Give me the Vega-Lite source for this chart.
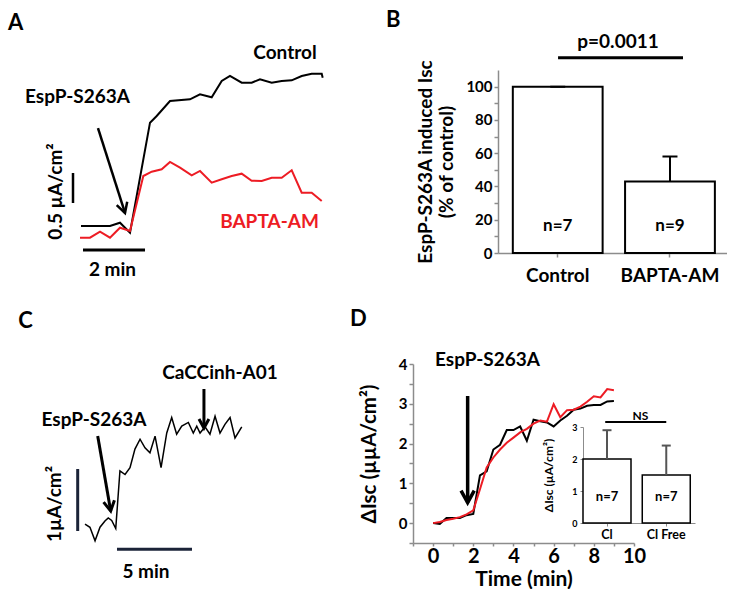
{
  "$schema": "https://vega.github.io/schema/vega-lite/v6.json",
  "background": "white",
  "padding": {"left": 0, "top": 8, "right": 0, "bottom": 0},
  "config": {
    "view": {"stroke": null},
    "font": "Lato",
    "text": {"font": "Lato", "fontWeight": "bold", "fontSize": 19, "color": "black"},
    "axis": {"labelFont": "Lato", "titleFont": "Lato", "labelFontWeight": "bold", "titleFontWeight": "bold", "labelColor": "black", "titleColor": "black", "domainColor": "#8c8c8c", "tickColor": "#8c8c8c", "domainWidth": 1.5, "tickWidth": 1.5, "grid": false, "labelFlush": false, "labelOverlap": false}
  },
  "datasets": {
    "aTraces": [
      {"condition": "Control", "time": 0, "isc": 0},
      {"condition": "Control", "time": 0.935, "isc": 0},
      {"condition": "Control", "time": 1.258, "isc": 0.055},
      {"condition": "Control", "time": 1.581, "isc": -0.112},
      {"condition": "Control", "time": 2.226, "isc": 1.722},
      {"condition": "Control", "time": 2.442, "isc": 1.833},
      {"condition": "Control", "time": 2.871, "isc": 2.083},
      {"condition": "Control", "time": 3.516, "isc": 2.112},
      {"condition": "Control", "time": 3.839, "isc": 2.195},
      {"condition": "Control", "time": 4.216, "isc": 2.145},
      {"condition": "Control", "time": 4.539, "isc": 2.417},
      {"condition": "Control", "time": 4.806, "isc": 2.5},
      {"condition": "Control", "time": 5.184, "isc": 2.388},
      {"condition": "Control", "time": 5.506, "isc": 2.388},
      {"condition": "Control", "time": 5.774, "isc": 2.445},
      {"condition": "Control", "time": 6.152, "isc": 2.388},
      {"condition": "Control", "time": 6.474, "isc": 2.417},
      {"condition": "Control", "time": 6.797, "isc": 2.428},
      {"condition": "Control", "time": 7.119, "isc": 2.5},
      {"condition": "Control", "time": 7.442, "isc": 2.538},
      {"condition": "Control", "time": 7.765, "isc": 2.538},
      {"condition": "Control", "time": 7.797, "isc": 2.472},
      {"condition": "BAPTA-AM", "time": -0.032, "isc": -0.195},
      {"condition": "BAPTA-AM", "time": 0.29, "isc": -0.195},
      {"condition": "BAPTA-AM", "time": 0.613, "isc": -0.095},
      {"condition": "BAPTA-AM", "time": 0.935, "isc": -0.195},
      {"condition": "BAPTA-AM", "time": 1.258, "isc": -0.028},
      {"condition": "BAPTA-AM", "time": 1.581, "isc": -0.083},
      {"condition": "BAPTA-AM", "time": 2.01, "isc": 0.833},
      {"condition": "BAPTA-AM", "time": 2.281, "isc": 0.905},
      {"condition": "BAPTA-AM", "time": 2.603, "isc": 0.945},
      {"condition": "BAPTA-AM", "time": 2.871, "isc": 1.067},
      {"condition": "BAPTA-AM", "time": 3.194, "isc": 0.972},
      {"condition": "BAPTA-AM", "time": 3.571, "isc": 0.845},
      {"condition": "BAPTA-AM", "time": 3.839, "isc": 0.917},
      {"condition": "BAPTA-AM", "time": 4.216, "isc": 0.722},
      {"condition": "BAPTA-AM", "time": 4.539, "isc": 0.778},
      {"condition": "BAPTA-AM", "time": 4.861, "isc": 0.833},
      {"condition": "BAPTA-AM", "time": 5.184, "isc": 0.872},
      {"condition": "BAPTA-AM", "time": 5.506, "isc": 0.755},
      {"condition": "BAPTA-AM", "time": 5.829, "isc": 0.75},
      {"condition": "BAPTA-AM", "time": 6.152, "isc": 0.805},
      {"condition": "BAPTA-AM", "time": 6.474, "isc": 0.805},
      {"condition": "BAPTA-AM", "time": 6.797, "isc": 0.928},
      {"condition": "BAPTA-AM", "time": 7.119, "isc": 0.555},
      {"condition": "BAPTA-AM", "time": 7.442, "isc": 0.555},
      {"condition": "BAPTA-AM", "time": 7.765, "isc": 0.417}
    ],
    "bBars": [
      {"group": "Control", "pct": 100, "upper": 100, "n": "n=7"},
      {"group": "BAPTA-AM", "pct": 43, "upper": 58, "n": "n=9"}
    ],
    "cTrace": [
      {"time": 0, "isc": 0.03}, {"time": 0.33, "isc": -0.02}, {"time": 0.67, "isc": -0.24},
      {"time": 1.0, "isc": -0.02}, {"time": 1.33, "isc": 0.08}, {"time": 1.55, "isc": 0.13},
      {"time": 1.78, "isc": 0.09}, {"time": 2.05, "isc": -0.04}, {"time": 2.33, "isc": 0.89},
      {"time": 2.67, "isc": 0.83}, {"time": 3.0, "isc": 0.94}, {"time": 3.33, "isc": 1.24},
      {"time": 3.67, "isc": 1.4}, {"time": 4.0, "isc": 1.26}, {"time": 4.33, "isc": 1.18},
      {"time": 4.67, "isc": 1.45}, {"time": 5.07, "isc": 0.94}, {"time": 5.45, "isc": 1.5},
      {"time": 5.78, "isc": 1.75}, {"time": 6.11, "isc": 1.48}, {"time": 6.45, "isc": 1.61},
      {"time": 6.89, "isc": 1.67}, {"time": 7.22, "isc": 1.5}, {"time": 7.45, "isc": 1.61},
      {"time": 7.67, "isc": 1.5}, {"time": 8.0, "isc": 1.6}, {"time": 8.33, "isc": 1.48},
      {"time": 8.67, "isc": 1.77}, {"time": 9.0, "isc": 1.5}, {"time": 9.33, "isc": 1.64},
      {"time": 9.67, "isc": 1.75}, {"time": 10.0, "isc": 1.42}, {"time": 10.45, "isc": 1.6}
    ],
    "dTraces": [
      {"condition": "Cl", "time": 0, "disc": 0},
      {"condition": "Cl", "time": 0.333, "disc": -0.02},
      {"condition": "Cl", "time": 0.667, "disc": 0.13},
      {"condition": "Cl", "time": 1.0, "disc": 0.13},
      {"condition": "Cl", "time": 1.333, "disc": 0.13},
      {"condition": "Cl", "time": 1.667, "disc": 0.2},
      {"condition": "Cl", "time": 2.0, "disc": 0.23},
      {"condition": "Cl", "time": 2.333, "disc": 1.2},
      {"condition": "Cl", "time": 2.667, "disc": 1.3},
      {"condition": "Cl", "time": 3.0, "disc": 1.85},
      {"condition": "Cl", "time": 3.333, "disc": 1.97},
      {"condition": "Cl", "time": 3.667, "disc": 2.34},
      {"condition": "Cl", "time": 4.0, "disc": 2.34},
      {"condition": "Cl", "time": 4.333, "disc": 2.43},
      {"condition": "Cl", "time": 4.667, "disc": 2.07},
      {"condition": "Cl", "time": 5.0, "disc": 2.6},
      {"condition": "Cl", "time": 5.333, "disc": 2.56},
      {"condition": "Cl", "time": 5.667, "disc": 2.53},
      {"condition": "Cl", "time": 6.0, "disc": 2.43},
      {"condition": "Cl", "time": 6.333, "disc": 2.58},
      {"condition": "Cl", "time": 6.667, "disc": 2.7},
      {"condition": "Cl", "time": 7.0, "disc": 2.85},
      {"condition": "Cl", "time": 7.333, "disc": 2.88},
      {"condition": "Cl", "time": 7.667, "disc": 2.95},
      {"condition": "Cl", "time": 8.0, "disc": 2.97},
      {"condition": "Cl", "time": 8.333, "disc": 2.97},
      {"condition": "Cl", "time": 8.667, "disc": 3.06},
      {"condition": "Cl", "time": 9.0, "disc": 3.07},
      {"condition": "Cl Free", "time": 0, "disc": 0},
      {"condition": "Cl Free", "time": 0.333, "disc": 0.03},
      {"condition": "Cl Free", "time": 0.667, "disc": 0.08},
      {"condition": "Cl Free", "time": 1.0, "disc": 0.11},
      {"condition": "Cl Free", "time": 1.333, "disc": 0.15},
      {"condition": "Cl Free", "time": 1.667, "disc": 0.22},
      {"condition": "Cl Free", "time": 2.0, "disc": 0.32},
      {"condition": "Cl Free", "time": 2.333, "disc": 0.85},
      {"condition": "Cl Free", "time": 2.667, "disc": 1.4},
      {"condition": "Cl Free", "time": 3.0, "disc": 1.65},
      {"condition": "Cl Free", "time": 3.333, "disc": 1.85},
      {"condition": "Cl Free", "time": 3.667, "disc": 2.02},
      {"condition": "Cl Free", "time": 4.0, "disc": 2.15},
      {"condition": "Cl Free", "time": 4.333, "disc": 2.28},
      {"condition": "Cl Free", "time": 4.667, "disc": 2.37},
      {"condition": "Cl Free", "time": 5.0, "disc": 2.5},
      {"condition": "Cl Free", "time": 5.333, "disc": 2.58},
      {"condition": "Cl Free", "time": 5.667, "disc": 2.55},
      {"condition": "Cl Free", "time": 6.0, "disc": 2.99},
      {"condition": "Cl Free", "time": 6.333, "disc": 2.66},
      {"condition": "Cl Free", "time": 6.667, "disc": 2.84},
      {"condition": "Cl Free", "time": 7.0, "disc": 2.85},
      {"condition": "Cl Free", "time": 7.333, "disc": 2.93},
      {"condition": "Cl Free", "time": 7.667, "disc": 3.05},
      {"condition": "Cl Free", "time": 8.0, "disc": 3.19},
      {"condition": "Cl Free", "time": 8.333, "disc": 3.16},
      {"condition": "Cl Free", "time": 8.667, "disc": 3.37},
      {"condition": "Cl Free", "time": 9.0, "disc": 3.34}
    ],
    "insetBars": [
      {"group": "Cl", "mean": 2.0, "upper": 2.9, "n": "n=7"},
      {"group": "Cl Free", "mean": 1.5, "upper": 2.42, "n": "n=7"}
    ]
  },
  "spacing": 294,
  "bounds": "flush",
  "vconcat": [
    {
      "spacing": 158,
      "bounds": "flush",
      "hconcat": [
        {
          "width": 340,
          "height": 183,
          "layer": [
            {
              "data": {"name": "aTraces"},
              "mark": {"type": "line", "strokeWidth": 2},
              "encoding": {
                "x": {"field": "time", "type": "quantitative", "scale": {"domain": [-2.613, 8.355], "nice": false, "zero": false}, "axis": null},
                "y": {"field": "isc", "type": "quantitative", "scale": {"domain": [-0.45, 2.6], "nice": false, "zero": false}, "axis": null},
                "color": {"field": "condition", "type": "nominal", "scale": {"domain": ["Control", "BAPTA-AM", "Cl", "Cl Free"], "range": ["#000000", "#ed1c24", "#000000", "#ed1c24"]}, "legend": null}
              }
            },
            {
              "data": {"values": [{"label": "A"}]},
              "mark": {"type": "text", "align": "left", "baseline": "alphabetic", "fontSize": 22},
              "encoding": {"x": {"datum": -2.355, "type": "quantitative", "axis": null}, "y": {"datum": 3.262, "type": "quantitative", "axis": null}, "text": {"field": "label"}}
            },
            {
              "data": {"values": [{"label": "Control"}]},
              "mark": {"type": "text", "align": "center", "baseline": "alphabetic", "fontSize": 19},
              "encoding": {"x": {"datum": 6.581, "type": "quantitative", "axis": null}, "y": {"datum": 2.783, "type": "quantitative", "axis": null}, "text": {"field": "label"}}
            },
            {
              "data": {"values": [{"label": "BAPTA-AM"}]},
              "mark": {"type": "text", "align": "center", "baseline": "alphabetic", "fontSize": 19, "color": "#ed1c24"},
              "encoding": {"x": {"datum": 6.081, "type": "quantitative", "axis": null}, "y": {"datum": -0.028, "type": "quantitative", "axis": null}, "text": {"field": "label"}}
            },
            {
              "data": {"values": [{"label": "EspP-S263A"}]},
              "mark": {"type": "text", "align": "center", "baseline": "alphabetic", "fontSize": 19},
              "encoding": {"x": {"datum": -0.113, "type": "quantitative", "axis": null}, "y": {"datum": 2.058, "type": "quantitative", "axis": null}, "text": {"field": "label"}}
            },
            {
              "data": {"values": [{"label": "2 min"}]},
              "mark": {"type": "text", "align": "center", "baseline": "alphabetic", "fontSize": 19},
              "encoding": {"x": {"datum": 1.016, "type": "quantitative", "axis": null}, "y": {"datum": -0.833, "type": "quantitative", "axis": null}, "text": {"field": "label"}}
            },
            {
              "data": {"values": [{"label": "0.5 µA/cm²"}]},
              "mark": {"type": "text", "align": "center", "baseline": "alphabetic", "fontSize": 19, "angle": 270},
              "encoding": {"x": {"datum": -0.629, "type": "quantitative", "axis": null}, "y": {"datum": 0.575, "type": "quantitative", "axis": null}, "text": {"field": "label"}}
            },
            {
              "data": {"values": [{"event": "EspP-S263A addition"}]},
              "mark": {"type": "rule", "color": "black", "strokeWidth": 2.5},
              "encoding": {"x": {"datum": 0.548, "type": "quantitative", "axis": null}, "y": {"datum": 1.633, "type": "quantitative", "axis": null}, "x2": {"datum": 1.419}, "y2": {"datum": 0.217}}
            },
            {
              "data": {"values": [{"event": "EspP-S263A addition"}]},
              "mark": {"type": "point", "shape": "M-0.55,-1L0,0L0.55,-1", "size": 400, "filled": false, "stroke": "black", "strokeWidth": 2.5, "opacity": 1, "angle": 342.4},
              "encoding": {"x": {"datum": 1.419, "type": "quantitative", "axis": null}, "y": {"datum": 0.217, "type": "quantitative", "axis": null}}
            },
            {
              "data": {"values": [{"scalebar": "0.5 µA/cm²"}]},
              "mark": {"type": "rule", "color": "black", "strokeWidth": 2.5},
              "encoding": {"x": {"datum": -0.258, "type": "quantitative", "axis": null}, "y": {"datum": 0.383, "type": "quantitative", "axis": null}, "y2": {"datum": 0.883}}
            },
            {
              "data": {"values": [{"scalebar": "2 min"}]},
              "mark": {"type": "rule", "color": "black", "strokeWidth": 3},
              "encoding": {"x": {"datum": 0.0645, "type": "quantitative", "axis": null}, "x2": {"datum": 2.065}, "y": {"datum": -0.4, "type": "quantitative", "axis": null}}
            }
          ]
        },
        {
          "width": 229,
          "height": 183,
          "resolve": {"scale": {"x": "independent"}},
          "layer": [
            {
              "data": {"name": "bBars"},
              "encoding": {
                "x": {"field": "group", "type": "nominal", "sort": null, "title": null,
                  "scale": {"domain": ["Control", "BAPTA-AM"], "paddingInner": 0.2, "paddingOuter": 0.12, "align": 0.55},
                  "axis": {"labelAngle": 0, "labelFontSize": 19, "labelPadding": 9, "tickSize": 4, "title": null, "labelOverlap": false}}
              },
              "layer": [
                {
                  "mark": {"type": "bar", "fill": "white", "stroke": "black", "strokeWidth": 2},
                  "encoding": {
                    "y": {"field": "pct", "type": "quantitative", "title": ["EspP-S263A induced Isc", "(% of control)"],
                      "scale": {"domain": [0, 110], "nice": false, "zero": false},
                      "axis": {"title": ["EspP-S263A induced Isc", "(% of control)"], "values": [0, 10, 20, 30, 40, 50, 60, 70, 80, 90, 100], "labelExpr": "datum.value % 20 === 0 ? format(datum.value, 'd') : ''", "labelOverlap": false, "labelSeparation": 0, "labelFontSize": 15, "labelPadding": 2, "tickSize": 4, "titleFontSize": 19, "titlePadding": 9, "titleLineHeight": 21}}
                  }
                },
                {
                  "mark": {"type": "rule", "color": "black", "strokeWidth": 2},
                  "encoding": {"y": {"field": "pct", "type": "quantitative", "title": ["EspP-S263A induced Isc", "(% of control)"],
                      "axis": {"title": ["EspP-S263A induced Isc", "(% of control)"], "values": [0, 10, 20, 30, 40, 50, 60, 70, 80, 90, 100], "labelExpr": "datum.value % 20 === 0 ? format(datum.value, 'd') : ''", "labelOverlap": false, "labelSeparation": 0, "labelFontSize": 15, "labelPadding": 2, "tickSize": 4, "titleFontSize": 19, "titlePadding": 9, "titleLineHeight": 21}},
                    "y2": {"field": "upper"}}
                },
                {
                  "mark": {"type": "tick", "color": "black", "size": 15, "thickness": 2, "opacity": 1},
                  "encoding": {"y": {"field": "upper", "type": "quantitative", "title": ["EspP-S263A induced Isc", "(% of control)"],
                      "axis": {"title": ["EspP-S263A induced Isc", "(% of control)"], "values": [0, 10, 20, 30, 40, 50, 60, 70, 80, 90, 100], "labelExpr": "datum.value % 20 === 0 ? format(datum.value, 'd') : ''", "labelOverlap": false, "labelSeparation": 0, "labelFontSize": 15, "labelPadding": 2, "tickSize": 4, "titleFontSize": 19, "titlePadding": 9, "titleLineHeight": 21}}}
                },
                {
                  "mark": {"type": "text", "fontSize": 17, "baseline": "middle", "align": "center"},
                  "encoding": {"y": {"datum": 16, "type": "quantitative",
                      "axis": {"title": ["EspP-S263A induced Isc", "(% of control)"], "values": [0, 10, 20, 30, 40, 50, 60, 70, 80, 90, 100], "labelExpr": "datum.value % 20 === 0 ? format(datum.value, 'd') : ''", "labelOverlap": false, "labelSeparation": 0, "labelFontSize": 15, "labelPadding": 2, "tickSize": 4, "titleFontSize": 19, "titlePadding": 9, "titleLineHeight": 21}},
                    "text": {"field": "n"}}
                }
              ]
            },
            {
              "data": {"values": [{"label": "B"}]},
              "mark": {"type": "text", "align": "left", "baseline": "alphabetic", "fontSize": 22},
              "encoding": {"x": {"datum": -1.53, "type": "quantitative", "scale": {"domain": [-0.532, 1.508], "nice": false, "zero": false}, "axis": null},
                "y": {"datum": 135.85, "type": "quantitative",
                  "axis": {"title": ["EspP-S263A induced Isc", "(% of control)"], "values": [0, 10, 20, 30, 40, 50, 60, 70, 80, 90, 100], "labelExpr": "datum.value % 20 === 0 ? format(datum.value, 'd') : ''", "labelOverlap": false, "labelSeparation": 0, "labelFontSize": 15, "labelPadding": 2, "tickSize": 4, "titleFontSize": 19, "titlePadding": 9, "titleLineHeight": 21}},
                "text": {"field": "label"}}
            },
            {
              "data": {"values": [{"comparison": "Control vs BAPTA-AM"}]},
              "mark": {"type": "rule", "color": "black", "strokeWidth": 3},
              "encoding": {"x": {"datum": 0.003, "type": "quantitative", "scale": {"domain": [-0.532, 1.508], "nice": false, "zero": false}, "axis": null}, "x2": {"datum": 1.116},
                "y": {"datum": 117.4, "type": "quantitative",
                  "axis": {"title": ["EspP-S263A induced Isc", "(% of control)"], "values": [0, 10, 20, 30, 40, 50, 60, 70, 80, 90, 100], "labelExpr": "datum.value % 20 === 0 ? format(datum.value, 'd') : ''", "labelOverlap": false, "labelSeparation": 0, "labelFontSize": 15, "labelPadding": 2, "tickSize": 4, "titleFontSize": 19, "titlePadding": 9, "titleLineHeight": 21}}}
            },
            {
              "data": {"values": [{"label": "p=0.0011"}]},
              "mark": {"type": "text", "align": "center", "baseline": "alphabetic", "fontSize": 19},
              "encoding": {"x": {"datum": 0.537, "type": "quantitative", "scale": {"domain": [-0.532, 1.508], "nice": false, "zero": false}, "axis": null},
                "y": {"datum": 123.4, "type": "quantitative",
                  "axis": {"title": ["EspP-S263A induced Isc", "(% of control)"], "values": [0, 10, 20, 30, 40, 50, 60, 70, 80, 90, 100], "labelExpr": "datum.value % 20 === 0 ? format(datum.value, 'd') : ''", "labelOverlap": false, "labelSeparation": 0, "labelFontSize": 15, "labelPadding": 2, "tickSize": 4, "titleFontSize": 19, "titlePadding": 9, "titleLineHeight": 21}},
                "text": {"field": "label"}}
            }
          ]
        }
      ]
    },
    {
      "spacing": 0,
      "bounds": "flush",
      "hconcat": [
        {
          "width": 413,
          "height": 179,
          "layer": [
            {
              "data": {"name": "cTrace"},
              "mark": {"type": "line", "color": "black", "strokeWidth": 1.5},
              "encoding": {
                "x": {"field": "time", "type": "quantitative", "scale": {"domain": [-5.6667, 21.8667], "nice": false, "zero": false}, "axis": null},
                "y": {"field": "isc", "type": "quantitative", "scale": {"domain": [-0.2742, 2.6129], "nice": false, "zero": false}, "axis": null}
              }
            },
            {
              "data": {"values": [{"label": "C"}]},
              "mark": {"type": "text", "align": "left", "baseline": "alphabetic", "fontSize": 22},
              "encoding": {"x": {"datum": -4.447, "type": "quantitative", "axis": null}, "y": {"datum": 3.198, "type": "quantitative", "axis": null}, "text": {"field": "label"}}
            },
            {
              "data": {"values": [{"label": "EspP-S263A"}]},
              "mark": {"type": "text", "align": "center", "baseline": "alphabetic", "fontSize": 19},
              "encoding": {"x": {"datum": 0.6, "type": "quantitative", "axis": null}, "y": {"datum": 1.613, "type": "quantitative", "axis": null}, "text": {"field": "label"}}
            },
            {
              "data": {"values": [{"label": "CaCCinh-A01"}]},
              "mark": {"type": "text", "align": "center", "baseline": "alphabetic", "fontSize": 19},
              "encoding": {"x": {"datum": 9.0, "type": "quantitative", "axis": null}, "y": {"datum": 2.375, "type": "quantitative", "axis": null}, "text": {"field": "label"}}
            },
            {
              "data": {"values": [{"label": "5 min"}]},
              "mark": {"type": "text", "align": "center", "baseline": "alphabetic", "fontSize": 19},
              "encoding": {"x": {"datum": 4.067, "type": "quantitative", "axis": null}, "y": {"datum": -0.839, "type": "quantitative", "axis": null}, "text": {"field": "label"}}
            },
            {
              "data": {"values": [{"label": "1µA/cm²"}]},
              "mark": {"type": "text", "align": "center", "baseline": "alphabetic", "fontSize": 19, "angle": 270},
              "encoding": {"x": {"datum": -1.6, "type": "quantitative", "axis": null}, "y": {"datum": 0.355, "type": "quantitative", "axis": null}, "text": {"field": "label"}}
            },
            {
              "data": {"values": [{"event": "EspP-S263A addition"}]},
              "mark": {"type": "rule", "color": "black", "strokeWidth": 3},
              "encoding": {"x": {"datum": 0.847, "type": "quantitative", "axis": null}, "y": {"datum": 1.452, "type": "quantitative", "axis": null}, "x2": {"datum": 1.713}, "y2": {"datum": 0.242}}
            },
            {
              "data": {"values": [{"event": "EspP-S263A addition"}]},
              "mark": {"type": "point", "shape": "M-0.55,-1L0,0L0.55,-1", "size": 400, "filled": false, "stroke": "black", "strokeWidth": 3, "opacity": 1, "angle": 350.2},
              "encoding": {"x": {"datum": 1.713, "type": "quantitative", "axis": null}, "y": {"datum": 0.242, "type": "quantitative", "axis": null}}
            },
            {
              "data": {"values": [{"event": "CaCCinh-A01 addition"}]},
              "mark": {"type": "rule", "color": "black", "strokeWidth": 3},
              "encoding": {"x": {"datum": 7.93, "type": "quantitative", "axis": null}, "y": {"datum": 2.21, "type": "quantitative", "axis": null}, "y2": {"datum": 1.58}}
            },
            {
              "data": {"values": [{"event": "CaCCinh-A01 addition"}]},
              "mark": {"type": "point", "shape": "M-0.55,-1L0,0L0.55,-1", "size": 324, "filled": false, "stroke": "black", "strokeWidth": 3, "opacity": 1},
              "encoding": {"x": {"datum": 7.93, "type": "quantitative", "axis": null}, "y": {"datum": 1.58, "type": "quantitative", "axis": null}}
            },
            {
              "data": {"values": [{"scalebar": "1 µA/cm²"}]},
              "mark": {"type": "rule", "color": "#1b2338", "strokeWidth": 3},
              "encoding": {"x": {"datum": -0.487, "type": "quantitative", "axis": null}, "y": {"datum": -0.081, "type": "quantitative", "axis": null}, "y2": {"datum": 0.919}}
            },
            {
              "data": {"values": [{"scalebar": "5 min"}]},
              "mark": {"type": "rule", "color": "#1b2338", "strokeWidth": 3},
              "encoding": {"x": {"datum": 2.133, "type": "quantitative", "axis": null}, "x2": {"datum": 7.133}, "y": {"datum": -0.376, "type": "quantitative", "axis": null}}
            }
          ]
        },
        {
          "spacing": 0,
          "bounds": "flush",
          "hconcat": [
            {
              "width": 170,
              "height": 179,
              "layer": [
                {
                  "data": {"values": [{"label": "D"}]},
                  "mark": {"type": "text", "align": "left", "baseline": "alphabetic", "fontSize": 22},
                  "encoding": {"x": {"datum": -4.136, "type": "quantitative", "scale": {"domain": [-1, 7.4615], "nice": false, "zero": false}, "axis": null}, "y": {"datum": 4.955, "type": "quantitative", "scale": {"domain": [-0.5, 4], "nice": false, "zero": false}, "axis": null}, "text": {"field": "label"}}
                },
                {
                  "data": {"values": [{"label": "EspP-S263A"}]},
                  "mark": {"type": "text", "align": "center", "baseline": "alphabetic", "fontSize": 19},
                  "encoding": {"x": {"datum": 2.708, "type": "quantitative", "axis": null}, "y": {"datum": 3.95, "type": "quantitative", "axis": null}, "text": {"field": "label"}}
                },
                {
                  "data": {"values": [{"event": "EspP-S263A addition"}]},
                  "mark": {"type": "rule", "color": "black", "strokeWidth": 3.5},
                  "encoding": {"x": {"datum": 1.72, "type": "quantitative", "axis": null}, "y": {"datum": 3.195, "type": "quantitative", "axis": null}, "y2": {"datum": 0.513}}
                },
                {
                  "data": {"values": [{"event": "EspP-S263A addition"}]},
                  "mark": {"type": "point", "shape": "M-0.55,-1L0,0L0.55,-1", "size": 576, "filled": false, "stroke": "black", "strokeWidth": 3.5, "opacity": 1},
                  "encoding": {"x": {"datum": 1.72, "type": "quantitative", "axis": null}, "y": {"datum": 0.513, "type": "quantitative", "axis": null}}
                }
              ]
            },
            {
              "spacing": 0,
              "bounds": "flush",
              "vconcat": [
                {
                  "width": 112,
                  "height": 63,
                  "layer": [
                    {
                      "data": {"values": [{"comparison": "Cl vs Cl Free"}]},
                      "mark": {"type": "rule", "color": "black", "strokeWidth": 2},
                      "encoding": {"x": {"datum": -0.03, "type": "quantitative", "scale": {"domain": [-0.405, 1.485], "nice": false, "zero": false}, "axis": null}, "x2": {"datum": 1.0}, "y": {"datum": 3.16, "type": "quantitative", "scale": {"domain": [3, 4.969], "nice": false, "zero": false}, "axis": null}}
                    },
                    {
                      "data": {"values": [{"label": "NS"}]},
                      "mark": {"type": "text", "align": "center", "baseline": "middle", "fontSize": 12},
                      "encoding": {"x": {"datum": 0.565, "type": "quantitative", "axis": null}, "y": {"datum": 3.34, "type": "quantitative", "axis": null}, "text": {"field": "label"}}
                    }
                  ]
                },
                {
                  "width": 112,
                  "height": 96,
                  "data": {"name": "insetBars"},
                  "encoding": {
                    "x": {"field": "group", "type": "nominal", "sort": null, "title": null,
                      "scale": {"domain": ["Cl", "Cl Free"], "paddingInner": 0.19, "paddingOuter": 0.04, "align": 0},
                      "axis": {"labelAngle": 0, "labelFontSize": 12.5, "labelPadding": 2, "tickSize": 3, "domainWidth": 1, "tickWidth": 1, "title": null, "labelOverlap": false}}
                  },
                  "layer": [
                    {
                      "mark": {"type": "bar", "fill": "white", "stroke": "black", "strokeWidth": 1.5},
                      "encoding": {
                        "y": {"field": "mean", "type": "quantitative", "title": "ΔIsc (µA/cm²)", "scale": {"domain": [0, 3], "nice": false, "zero": false},
                          "axis": {"title": "ΔIsc (µA/cm²)", "values": [0, 1, 2, 3], "labelExpr": "format(datum.value, 'd')", "labelOverlap": false, "labelSeparation": 0, "labelFontSize": 9, "labelPadding": 3, "tickSize": 3, "domainWidth": 1, "tickWidth": 1, "titleFontSize": 12, "titlePadding": 16}}
                      }
                    },
                    {
                      "mark": {"type": "rule", "color": "#555555", "strokeWidth": 2},
                      "encoding": {"y": {"field": "mean", "type": "quantitative", "title": "ΔIsc (µA/cm²)",
                          "axis": {"title": "ΔIsc (µA/cm²)", "values": [0, 1, 2, 3], "labelExpr": "format(datum.value, 'd')", "labelOverlap": false, "labelSeparation": 0, "labelFontSize": 9, "labelPadding": 3, "tickSize": 3, "domainWidth": 1, "tickWidth": 1, "titleFontSize": 12, "titlePadding": 16}},
                        "y2": {"field": "upper"}}
                    },
                    {
                      "mark": {"type": "tick", "color": "#555555", "size": 9, "thickness": 2, "opacity": 1},
                      "encoding": {"y": {"field": "upper", "type": "quantitative", "title": "ΔIsc (µA/cm²)",
                          "axis": {"title": "ΔIsc (µA/cm²)", "values": [0, 1, 2, 3], "labelExpr": "format(datum.value, 'd')", "labelOverlap": false, "labelSeparation": 0, "labelFontSize": 9, "labelPadding": 3, "tickSize": 3, "domainWidth": 1, "tickWidth": 1, "titleFontSize": 12, "titlePadding": 16}}}
                    },
                    {
                      "mark": {"type": "text", "fontSize": 13, "baseline": "middle", "align": "center"},
                      "encoding": {"y": {"datum": 0.8, "type": "quantitative",
                          "axis": {"title": "ΔIsc (µA/cm²)", "values": [0, 1, 2, 3], "labelExpr": "format(datum.value, 'd')", "labelOverlap": false, "labelSeparation": 0, "labelFontSize": 9, "labelPadding": 3, "tickSize": 3, "domainWidth": 1, "tickWidth": 1, "titleFontSize": 12, "titlePadding": 16}},
                        "text": {"field": "n"}}
                    }
                  ]
                }
              ]
            }
          ]
        },
        {
          "width": 221,
          "height": 179,
          "data": {"name": "dTraces"},
          "mark": {"type": "line", "strokeWidth": 2},
          "encoding": {
            "x": {"field": "time", "type": "quantitative", "scale": {"domain": [-1, 10], "nice": false, "zero": false},
              "axis": {"title": "Time (min)", "values": [-1, 0, 1, 2, 3, 4, 5, 6, 7, 8, 9, 10], "labelExpr": "datum.value >= 0 && datum.value % 2 === 0 ? format(datum.value, 'd') : ''", "labelOverlap": false, "labelFontSize": 20, "labelPadding": 0, "tickSize": 3, "labelAngle": 0, "titleFontSize": 21, "titlePadding": 2}},
            "y": {"field": "disc", "type": "quantitative", "scale": {"domain": [-0.5, 4], "nice": false, "zero": false},
              "axis": {"title": "ΔIsc (µµA/cm²)", "values": [-0.5, 0, 0.5, 1, 1.5, 2, 2.5, 3, 3.5, 4], "labelExpr": "datum.value % 1 === 0 ? format(datum.value, 'd') : ''", "labelOverlap": false, "labelFontSize": 15, "labelPadding": 2, "tickSize": 4, "titleFontSize": 20.5, "titlePadding": 19}},
            "color": {"field": "condition", "type": "nominal", "scale": {"domain": ["Control", "BAPTA-AM", "Cl", "Cl Free"], "range": ["#000000", "#ed1c24", "#000000", "#ed1c24"]}, "legend": null}
          }
        }
      ]
    }
  ]
}
